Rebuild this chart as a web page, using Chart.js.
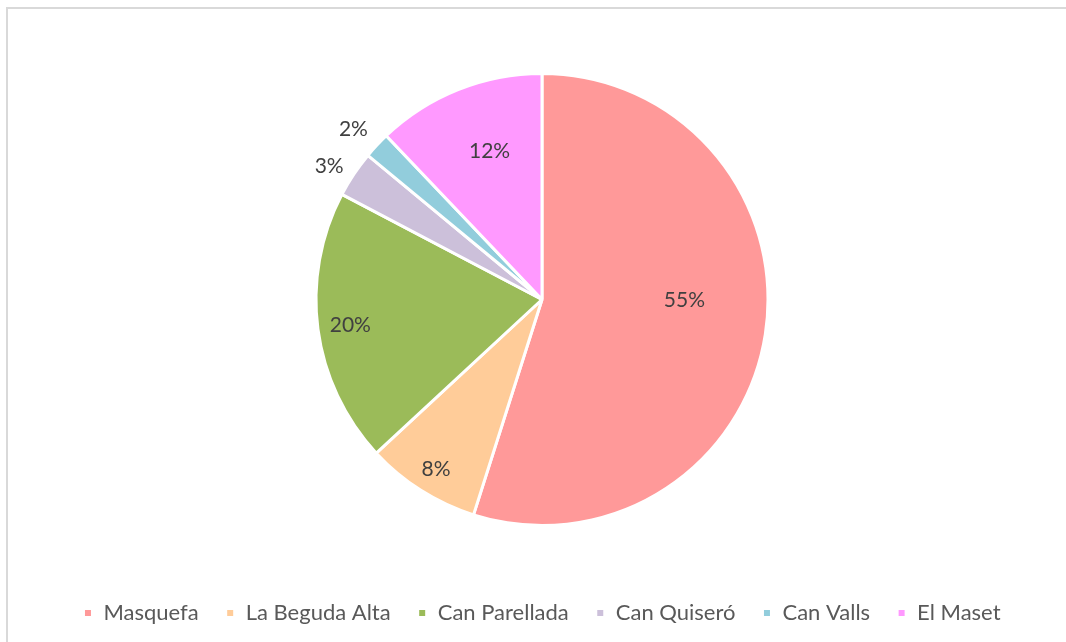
<!DOCTYPE html>
<html>
<head>
<meta charset="utf-8">
<script src="https://cdn.jsdelivr.net/npm/chart.js@4.4.1/dist/chart.umd.min.js"></script>
<style>
  html, body { margin:0; padding:0; background:#fff; overflow:hidden; }
  #wrap { position:relative; width:1066px; height:642px; }
  #frame { position:absolute; left:6px; top:7px; width:1070px; height:650px;
           border-top:2px solid #d9d9d9; border-left:2px solid #d9d9d9; box-sizing:border-box; }
  canvas { position:absolute; left:0; top:0; }
</style>
</head>
<body>
<div id="wrap">
  <div id="frame"></div>
  <canvas id="c" width="1066" height="642"></canvas>
</div>
<script>
// ---- data ----
const categories = ["Masquefa", "La Beguda Alta", "Can Parellada", "Can Quiseró", "Can Valls", "El Maset"];
const shares = [54.9, 8.2, 19.6, 3.3, 1.9, 12.1];
const colors = ["#FF9999", "#FFCC99", "#9BBB59", "#CCC0DA", "#92CDDC", "#FF99FF"];

// label placement (style): radius fraction and angle nudge (degrees)
const labelRadius = [0.63, 0.884, 0.856, 1.11, 1.125, 0.696];
const labelNudge = [-8.5, -0.4, -0.2, -1.7, -0.9, 2.3];

const FONT = 'Lato, "Open Sans", sans-serif';

const pctLabels = {
  id: 'pctLabels',
  afterDatasetsDraw(chart) {
    const ctx = chart.ctx;
    const meta = chart.getDatasetMeta(0);
    const data = chart.data.datasets[0].data;
    const total = data.reduce((a, b) => a + b, 0);
    ctx.save();
    ctx.font = '21px ' + FONT;
    ctx.fillStyle = '#404040';
    ctx.textAlign = 'center';
    ctx.textBaseline = 'middle';
    meta.data.forEach((arc, i) => {
      const p = arc.getProps(['x', 'y', 'startAngle', 'endAngle', 'outerRadius'], true);
      const mid = (p.startAngle + p.endAngle) / 2 + labelNudge[i] * Math.PI / 180;
      const r = p.outerRadius * labelRadius[i];
      const x = p.x + Math.cos(mid) * r;
      const y = p.y + Math.sin(mid) * r;
      ctx.fillText(Math.round(data[i] / total * 100) + '%', x, y);
    });
    ctx.restore();
  }
};

new Chart(document.getElementById('c'), {
  type: 'pie',
  data: {
    labels: categories,
    datasets: [{
      data: shares,
      backgroundColor: colors,
      borderColor: '#ffffff',
      borderWidth: 3
    }]
  },
  options: {
    responsive: false,
    animation: false,
    layout: { padding: { top: 72, bottom: 8, left: 18, right: 0 } },
    plugins: {
      tooltip: { enabled: false },
      legend: {
        position: 'bottom',
        title: { display: true, text: ' ', font: { size: 10 }, padding: { top: 36, bottom: 0 } },
        labels: {
          boxWidth: 9,
          boxHeight: 9,
          padding: 27,
          color: '#595959',
          font: { family: FONT, size: 22 }
        }
      }
    }
  },
  plugins: [pctLabels]
});
</script>
</body>
</html>
